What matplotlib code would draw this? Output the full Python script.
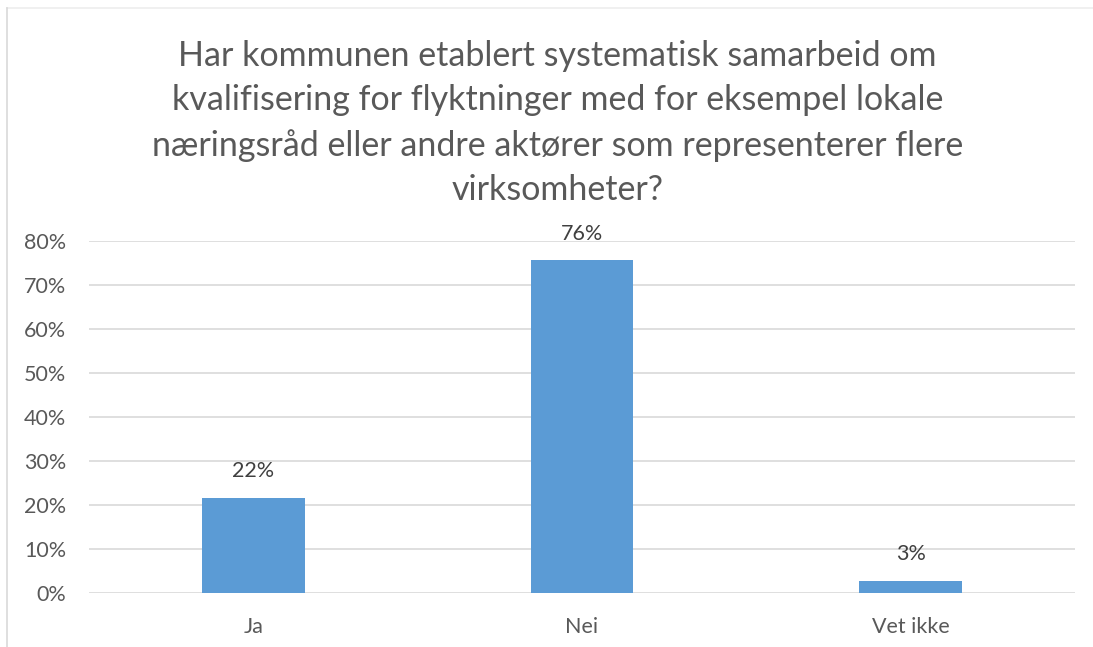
import matplotlib.pyplot as plt
from matplotlib.lines import Line2D
from matplotlib.ticker import FuncFormatter, MultipleLocator

# Data
categories = ["Ja", "Nei", "Vet ikke"]
values = [0.217, 0.756, 0.027]
labels = ["22%", "76%", "3%"]
title = ("Har kommunen etablert systematisk samarbeid om\n"
         "kvalifisering for flyktninger med for eksempel lokale\n"
         "næringsråd eller andre aktører som representerer flere\n"
         "virksomheter?")

plt.rcParams["font.family"] = ["Lato", "DejaVu Sans"]

fig = plt.figure(figsize=(10.93, 6.47), dpi=100)
ax = fig.add_axes([89 / 1093, 1 - 593 / 647, 986 / 1093, 352 / 647])

# chart border (top faint, left grey)
top = 1 - 8 / 647
left = 7 / 1093
fig.lines.append(Line2D([left, 1], [top, top], transform=fig.transFigure,
                        color="#EEEEEE", linewidth=1.2))
fig.lines.append(Line2D([left, left], [0, top], transform=fig.transFigure,
                        color="#D9D9D9", linewidth=1.2))

x = range(len(categories))
ax.bar(x, values, width=0.313, color="#5B9BD5", zorder=3)
for i, (v, lab) in enumerate(zip(values, labels)):
    ax.annotate(lab, (i, v), xytext=(0, 12), textcoords="offset points",
                ha="center", va="bottom", fontsize=15.5, color="#404040")

ax.set_xlim(-0.5, 2.5)
ax.set_ylim(0, 0.8)
ax.yaxis.set_major_locator(MultipleLocator(0.1))
ax.yaxis.set_major_formatter(FuncFormatter(lambda v, p: f"{v * 100:.0f}%"))
ax.set_xticks(list(x))
ax.set_xticklabels(categories)
ax.grid(axis="y", color="#D9D9D9", linewidth=1.2, zorder=0)
ax.tick_params(axis="both", length=0, labelsize=15.5, labelcolor="#595959")
ax.tick_params(axis="y", pad=16.5)
ax.tick_params(axis="x", pad=17)
for s in ax.spines.values():
    s.set_visible(False)

fig.text(0.51, 1 - 40 / 647, title, ha="center", va="top", fontsize=24.5,
         color="#595959", linespacing=1.47)

fig.savefig("out.png", dpi=100)
